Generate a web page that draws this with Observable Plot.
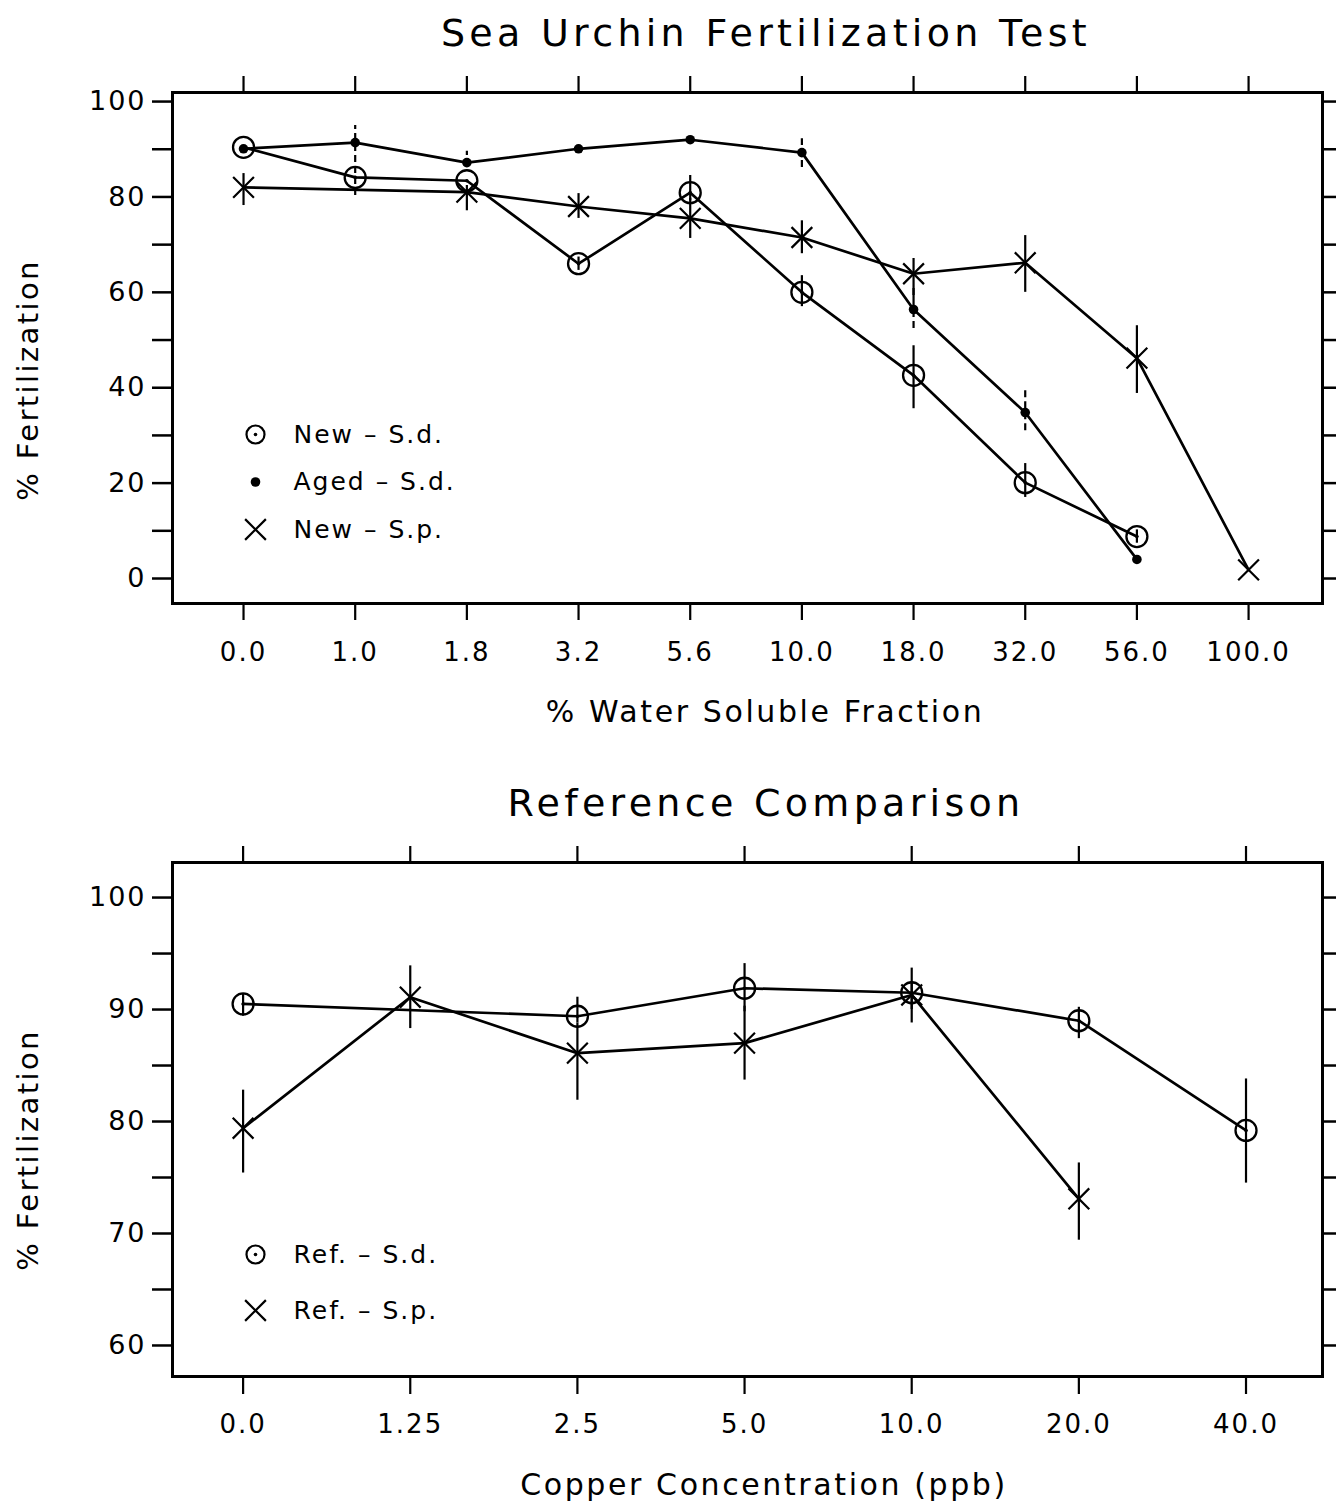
<!DOCTYPE html>
<html>
<head>
<meta charset="utf-8">
<script src="https://cdn.jsdelivr.net/npm/d3@7"></script>
<script src="https://cdn.jsdelivr.net/npm/@observablehq/plot@0.6"></script>
<style>
  body { margin: 0; background: #fff; }
  #page { position: relative; width: 1336px; height: 1504px; overflow: hidden; background: #fff;
          font-family: "DejaVu Sans", sans-serif; color: #000; }
  .t { position: absolute; white-space: nowrap; line-height: 1; transform: translate(-50%, -50%); }
  .ty { position: absolute; white-space: nowrap; line-height: 1; transform: translate(-50%, -50%) rotate(-90deg); }
  .panel { position: absolute; left: 0; }
</style>
</head>
<body>
<div id="page">
  <div class="t" style="left:766px; top:33px; font-size:38px; letter-spacing:4.3px;">Sea Urchin Fertilization Test</div>
  <div class="panel" id="top" style="top:60px;"></div>
  <div class="t" style="left:765px; top:712px; font-size:30px; letter-spacing:2.6px;">% Water Soluble Fraction</div>
  <div class="ty" style="left:28px; top:380px; font-size:29px; letter-spacing:2.4px;">% Fertilization</div>

  <div class="t" style="left:766px; top:803px; font-size:38px; letter-spacing:4.3px;">Reference Comparison</div>
  <div class="panel" id="bot" style="top:830px;"></div>
  <div class="t" style="left:764px; top:1485px; font-size:30px; letter-spacing:2.6px;">Copper Concentration (ppb)</div>
  <div class="ty" style="left:28px; top:1150px; font-size:29px; letter-spacing:2.4px;">% Fertilization</div>
</div>
<script>
// ---------- Top panel data: Sea Urchin Fertilization Test ----------
const topCategories = ["0.0", "1.0", "1.8", "3.2", "5.6", "10.0", "18.0", "32.0", "56.0", "100.0"];
const newSd    = [90.4, 84.1, 83.4, 66.0, 80.9, 60.0, 42.6, 20.1, 8.8, null];
const newSdLo  = [null, null, null, 64.6, 79.2, 57.0, 35.6, 17.0, 7.4, null];
const newSdHi  = [null, null, null, 67.4, 84.5, 63.5, 48.8, 24.1, 10.2, null];
const agedSd   = [90.1, 91.4, 87.2, 90.1, 92.0, 89.3, 56.4, 34.8, 4.0, null];
const agedSdLo = [null, 80.3, 86.4, null, null, 86.2, 52.4, 31.0, null, null];
const agedSdHi = [null, 95.0, 89.6, null, null, 92.2, 60.8, 39.8, null, null];
const newSp    = [82.0, null, 81.0, 78.0, 75.5, 71.5, 63.9, 66.2, 46.2, 1.8];
const newSpLo  = [78.2, null, 77.1, 75.5, 71.3, 68.1, 58.5, 60.0, 38.8, null];
const newSpHi  = [84.9, null, 82.4, 80.7, 79.7, 75.0, 67.1, 71.9, 53.0, null];
const topLegend = ["New \u2013 S.d.", "Aged \u2013 S.d.", "New \u2013 S.p."];
const topYTicks = [0, 10, 20, 30, 40, 50, 60, 70, 80, 90, 100];

// ---------- Bottom panel data: Reference Comparison ----------
const botCategories = ["0.0", "1.25", "2.5", "5.0", "10.0", "20.0", "40.0"];
const refSd    = [90.5, null, 89.4, 91.9, 91.5, 89.0, 79.2];
const refSdLo  = [89.4, null, 88.8, 89.8, 90.0, 87.4, 74.5];
const refSdHi  = [91.4, null, 91.1, 94.1, 93.7, 90.2, 83.8];
const refSp    = [79.4, 91.1, 86.1, 87.0, 91.3, 73.1, null];
const refSpLo  = [75.4, 88.3, 81.9, 83.7, 88.8, 69.4, null];
const refSpHi  = [82.8, 93.9, 88.8, 90.3, 92.5, 76.3, null];
const botLegend = ["Ref. \u2013 S.d.", "Ref. \u2013 S.p."];
const botYTicks = [60, 65, 70, 75, 80, 85, 90, 95, 100];

// ---------- helpers ----------
const rows = (cats, v, lo, hi) => cats.map((c, i) => ({c, v: v[i], lo: lo[i], hi: hi[i]}));
const hasV = d => d.v != null;
const hasE = d => d.lo != null && d.hi != null;

function seriesMarks(data, kind, dashedErr) {
  const pts = data.filter(hasV);
  const marks = [
    Plot.ruleX(data.filter(hasE), {x: "c", y1: "lo", y2: "hi", stroke: "black", strokeWidth: 2.2,
      strokeDasharray: dashedErr ? "7,4" : null}),
    Plot.line(pts, {x: "c", y: "v", stroke: "black", strokeWidth: 2.7})
  ];
  if (kind === "circle") {
    marks.push(Plot.dot(pts, {x: "c", y: "v", r: 10.5, stroke: "black", strokeWidth: 2.3, fill: "none"}));
    marks.push(Plot.dot(pts, {x: "c", y: "v", r: 1.8, fill: "black"}));
  } else if (kind === "dot") {
    marks.push(Plot.dot(pts, {x: "c", y: "v", r: 4.8, fill: "black"}));
  } else {
    marks.push(Plot.dot(pts, {x: "c", y: "v", r: 9.5, symbol: "times", stroke: "black", strokeWidth: 2.2}));
  }
  return marks;
}

function legendMarks(labels, kinds, dy0, step) {
  const out = [];
  labels.forEach((lab, i) => {
    const dy = dy0 + i * step;
    const k = kinds[i];
    if (k === "circle") {
      out.push(Plot.dot([lab], {frameAnchor: "top-left", dx: 83, dy, r: 9, stroke: "black", strokeWidth: 2.2, fill: "none"}));
      out.push(Plot.dot([lab], {frameAnchor: "top-left", dx: 83, dy, r: 1.8, fill: "black"}));
    } else if (k === "dot") {
      out.push(Plot.dot([lab], {frameAnchor: "top-left", dx: 83, dy, r: 4.8, fill: "black"}));
    } else {
      out.push(Plot.dot([lab], {frameAnchor: "top-left", dx: 83, dy, r: 9.5, symbol: "times", stroke: "black", strokeWidth: 2.2}));
    }
    out.push(Plot.text([lab], {frameAnchor: "top-left", dx: 121, dy, text: d => d, textAnchor: "start",
      lineAnchor: "middle", fontSize: 25, fill: "black"}));
  });
  return out;
}

function axes(yTicks, labelEvery, xTickSize, xPad) {
  return [
    Plot.axisY({anchor: "left", ticks: yTicks, tickSize: 20, tickPadding: 6, strokeWidth: 2.5,
      tickFormat: d => (d % labelEvery === 0 ? String(d) : ""), label: null, fontSize: 27}),
    Plot.axisY({anchor: "right", ticks: yTicks, tickSize: 14, strokeWidth: 2.5, tickFormat: () => "", label: null}),
    Plot.axisX({anchor: "bottom", tickSize: xTickSize, tickPadding: xPad, strokeWidth: 2.2, label: null, fontSize: 26}),
    Plot.axisX({anchor: "top", tickSize: 17, strokeWidth: 2.2, tickFormat: () => "", label: null})
  ];
}

const style = {fontFamily: "DejaVu Sans, sans-serif", fontSize: "26px", letterSpacing: "2px", color: "black", background: "white", overflow: "visible"};

// ---------- Top chart ----------
const topPlot = Plot.plot({
  width: 1336, height: 680,
  marginLeft: 172, marginRight: 14, marginTop: 32, marginBottom: 137,
  style,
  x: {type: "point", domain: topCategories, padding: 0.649, align: 0.49, round: false},
  y: {domain: [-5.24, 101.9]},
  marks: [
    ...axes(topYTicks, 20, 17, 22),
    Plot.frame({stroke: "black", strokeWidth: 3}),
    ...seriesMarks(rows(topCategories, newSp, newSpLo, newSpHi), "times", false),
    ...seriesMarks(rows(topCategories, newSd, newSdLo, newSdHi), "circle", false),
    ...seriesMarks(rows(topCategories, agedSd, agedSdLo, agedSdHi), "dot", true),
    ...legendMarks(topLegend, ["circle", "dot", "times"], 342, 47.5)
  ]
});
document.getElementById("top").appendChild(topPlot);

// ---------- Bottom chart ----------
const botPlot = Plot.plot({
  width: 1336, height: 674,
  marginLeft: 172, marginRight: 14, marginTop: 32, marginBottom: 128,
  style,
  x: {type: "point", domain: botCategories, padding: 0.44, align: 0.48, round: false},
  y: {domain: [57.23, 103.13]},
  marks: [
    ...axes(botYTicks, 10, 18, 20),
    Plot.frame({stroke: "black", strokeWidth: 3}),
    ...seriesMarks(rows(botCategories, refSp, refSpLo, refSpHi), "times", false),
    ...seriesMarks(rows(botCategories, refSd, refSdLo, refSdHi), "circle", false),
    ...legendMarks(botLegend, ["circle", "times"], 392, 56)
  ]
});
document.getElementById("bot").appendChild(botPlot);
</script>
</body>
</html>
